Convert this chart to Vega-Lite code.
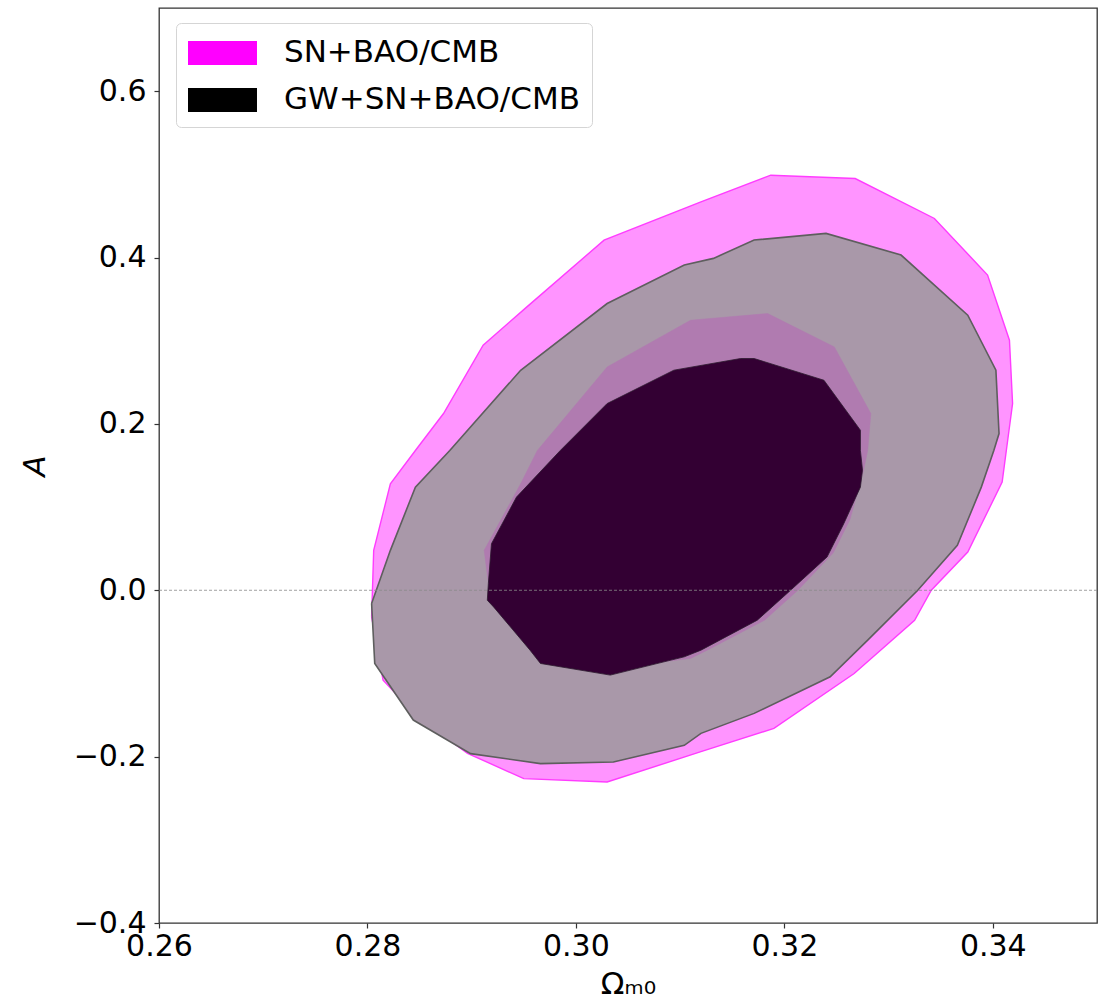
{
  "$schema": "https://vega.github.io/schema/vega-lite/v6.json",
  "width": 938,
  "height": 915,
  "autosize": {"type": "none"},
  "padding": {"left": 159, "top": 8, "right": 6, "bottom": 79},
  "background": "white",
  "config": {
    "view": {"stroke": "#333333", "strokeWidth": 1.3},
    "font": "DejaVu Sans",
    "axis": {
      "grid": false, "domain": false, "tickSize": 5, "tickColor": "#333333", "tickWidth": 1.2,
      "labelFont": "DejaVu Sans", "labelFontSize": 30, "labelColor": "#000000",
      "titleFont": "DejaVu Sans", "titleFontSize": 31, "titleFontWeight": "normal", "titleColor": "#000000"
    }
  },
  "data": {"values": [
    {"c":"sn2","i":1,"x":0.2804,"y":-0.032},
    {"c":"sn2","i":2,"x":0.2806,"y":0.048},
    {"c":"sn2","i":3,"x":0.2822,"y":0.128},
    {"c":"sn2","i":4,"x":0.2846,"y":0.168},
    {"c":"sn2","i":5,"x":0.2873,"y":0.2125},
    {"c":"sn2","i":6,"x":0.2911,"y":0.2946},
    {"c":"sn2","i":7,"x":0.2953,"y":0.3407},
    {"c":"sn2","i":8,"x":0.3027,"y":0.4209},
    {"c":"sn2","i":9,"x":0.312,"y":0.467},
    {"c":"sn2","i":10,"x":0.3187,"y":0.499},
    {"c":"sn2","i":11,"x":0.3268,"y":0.495},
    {"c":"sn2","i":12,"x":0.3344,"y":0.447},
    {"c":"sn2","i":13,"x":0.3395,"y":0.379},
    {"c":"sn2","i":14,"x":0.3416,"y":0.3006},
    {"c":"sn2","i":15,"x":0.3419,"y":0.2245},
    {"c":"sn2","i":16,"x":0.3413,"y":0.168},
    {"c":"sn2","i":17,"x":0.3409,"y":0.13},
    {"c":"sn2","i":18,"x":0.3376,"y":0.046},
    {"c":"sn2","i":19,"x":0.3341,"y":0.0},
    {"c":"sn2","i":20,"x":0.3325,"y":-0.036},
    {"c":"sn2","i":21,"x":0.3267,"y":-0.1},
    {"c":"sn2","i":22,"x":0.319,"y":-0.166},
    {"c":"sn2","i":23,"x":0.312,"y":-0.194},
    {"c":"sn2","i":24,"x":0.303,"y":-0.2305},
    {"c":"sn2","i":25,"x":0.295,"y":-0.2264},
    {"c":"sn2","i":26,"x":0.2896,"y":-0.196},
    {"c":"sn2","i":27,"x":0.2848,"y":-0.152},
    {"c":"sn2","i":28,"x":0.2815,"y":-0.108},
    {"c":"sn2","i":29,"x":0.2804,"y":-0.032},

    {"c":"gw2","i":1,"x":0.2804,"y":-0.016},
    {"c":"gw2","i":2,"x":0.2822,"y":0.048},
    {"c":"gw2","i":3,"x":0.2846,"y":0.124},
    {"c":"gw2","i":4,"x":0.2879,"y":0.168},
    {"c":"gw2","i":5,"x":0.2947,"y":0.2645},
    {"c":"gw2","i":6,"x":0.303,"y":0.3447},
    {"c":"gw2","i":7,"x":0.3104,"y":0.391},
    {"c":"gw2","i":8,"x":0.3132,"y":0.399},
    {"c":"gw2","i":9,"x":0.3171,"y":0.421},
    {"c":"gw2","i":10,"x":0.324,"y":0.429},
    {"c":"gw2","i":11,"x":0.3312,"y":0.403},
    {"c":"gw2","i":12,"x":0.3376,"y":0.3307},
    {"c":"gw2","i":13,"x":0.3403,"y":0.2646},
    {"c":"gw2","i":14,"x":0.3406,"y":0.1884},
    {"c":"gw2","i":15,"x":0.3401,"y":0.168},
    {"c":"gw2","i":16,"x":0.3389,"y":0.124},
    {"c":"gw2","i":17,"x":0.3366,"y":0.054},
    {"c":"gw2","i":18,"x":0.3328,"y":0.0},
    {"c":"gw2","i":19,"x":0.328,"y":-0.06},
    {"c":"gw2","i":20,"x":0.3244,"y":-0.104},
    {"c":"gw2","i":21,"x":0.3171,"y":-0.148},
    {"c":"gw2","i":22,"x":0.312,"y":-0.172},
    {"c":"gw2","i":23,"x":0.3104,"y":-0.1864},
    {"c":"gw2","i":24,"x":0.3036,"y":-0.2064},
    {"c":"gw2","i":25,"x":0.2966,"y":-0.2084},
    {"c":"gw2","i":26,"x":0.2899,"y":-0.1964},
    {"c":"gw2","i":27,"x":0.2844,"y":-0.156},
    {"c":"gw2","i":28,"x":0.2807,"y":-0.088},
    {"c":"gw2","i":29,"x":0.2804,"y":-0.016},

    {"c":"sn1","i":1,"x":0.2916,"y":0.008},
    {"c":"sn1","i":2,"x":0.2912,"y":0.048},
    {"c":"sn1","i":3,"x":0.2947,"y":0.128},
    {"c":"sn1","i":4,"x":0.2963,"y":0.168},
    {"c":"sn1","i":5,"x":0.303,"y":0.2685},
    {"c":"sn1","i":6,"x":0.311,"y":0.3247},
    {"c":"sn1","i":7,"x":0.3184,"y":0.3327},
    {"c":"sn1","i":8,"x":0.3248,"y":0.2926},
    {"c":"sn1","i":9,"x":0.3283,"y":0.2125},
    {"c":"sn1","i":10,"x":0.328,"y":0.168},
    {"c":"sn1","i":11,"x":0.3276,"y":0.144},
    {"c":"sn1","i":12,"x":0.3263,"y":0.085},
    {"c":"sn1","i":13,"x":0.3247,"y":0.045},
    {"c":"sn1","i":14,"x":0.3213,"y":0.0},
    {"c":"sn1","i":15,"x":0.3181,"y":-0.036},
    {"c":"sn1","i":16,"x":0.3126,"y":-0.072},
    {"c":"sn1","i":17,"x":0.311,"y":-0.082},
    {"c":"sn1","i":18,"x":0.303,"y":-0.094},
    {"c":"sn1","i":19,"x":0.2969,"y":-0.078},
    {"c":"sn1","i":20,"x":0.2928,"y":-0.02},
    {"c":"sn1","i":21,"x":0.2919,"y":-0.004},
    {"c":"sn1","i":22,"x":0.2916,"y":0.008},

    {"c":"gw1","i":1,"x":0.2916,"y":0.008},
    {"c":"gw1","i":2,"x":0.2919,"y":0.056},
    {"c":"gw1","i":3,"x":0.2943,"y":0.112},
    {"c":"gw1","i":4,"x":0.2985,"y":0.168},
    {"c":"gw1","i":5,"x":0.303,"y":0.2245},
    {"c":"gw1","i":6,"x":0.3094,"y":0.2646},
    {"c":"gw1","i":7,"x":0.3158,"y":0.2786},
    {"c":"gw1","i":8,"x":0.3171,"y":0.2786},
    {"c":"gw1","i":9,"x":0.3238,"y":0.2525},
    {"c":"gw1","i":10,"x":0.3273,"y":0.1924},
    {"c":"gw1","i":11,"x":0.3273,"y":0.168},
    {"c":"gw1","i":12,"x":0.3275,"y":0.1444},
    {"c":"gw1","i":13,"x":0.3273,"y":0.124},
    {"c":"gw1","i":14,"x":0.3257,"y":0.08},
    {"c":"gw1","i":15,"x":0.3241,"y":0.04},
    {"c":"gw1","i":16,"x":0.3206,"y":0.0},
    {"c":"gw1","i":17,"x":0.3174,"y":-0.036},
    {"c":"gw1","i":18,"x":0.312,"y":-0.072},
    {"c":"gw1","i":19,"x":0.3104,"y":-0.08},
    {"c":"gw1","i":20,"x":0.3033,"y":-0.102},
    {"c":"gw1","i":21,"x":0.2966,"y":-0.088},
    {"c":"gw1","i":22,"x":0.2956,"y":-0.072},
    {"c":"gw1","i":23,"x":0.2921,"y":-0.02},
    {"c":"gw1","i":24,"x":0.2915,"y":-0.012},
    {"c":"gw1","i":25,"x":0.2916,"y":0.008}
  ]},
  "encoding": {
    "x": {"field": "x", "type": "quantitative",
      "scale": {"domain": [0.26, 0.35], "nice": false, "zero": false},
      "axis": {"title": "Ωₘ₀", "values": [0.26, 0.28, 0.30, 0.32, 0.34], "format": ".2f", "labelPadding": 3, "titlePadding": 8, "labelFlush": false, "labelOverlap": false}},
    "y": {"field": "y", "type": "quantitative",
      "scale": {"domain": [-0.4, 0.7], "nice": false, "zero": false},
      "axis": {"title": "A", "titleFontStyle": "italic", "values": [-0.4, -0.2, 0, 0.2, 0.4, 0.6], "format": ".1f", "labelPadding": 8, "titlePadding": 22, "labelFlush": false, "labelOverlap": false}},
    "order": {"field": "i", "type": "quantitative"}
  },
  "layer": [
    {"transform": [{"filter": "datum.c == 'sn2'"}],
     "mark": {"type": "line", "fill": "#ff94ff", "stroke": "#ff3cff", "strokeWidth": 1.4, "clip": true}},
    {"transform": [{"filter": "datum.c == 'gw2'"}],
     "mark": {"type": "line", "fill": "#a998a9", "stroke": "#5e5e5e", "strokeWidth": 1.6, "clip": true}},
    {"transform": [{"filter": "datum.c == 'sn1'"}],
     "mark": {"type": "line", "fill": "#b07bb0", "stroke": "#b07bb0", "strokeWidth": 0.5, "clip": true}},
    {"transform": [{"filter": "datum.c == 'gw1'"}],
     "mark": {"type": "line", "fill": "#330033", "stroke": "#2c1a2e", "strokeWidth": 0.8, "clip": true}},
    {"data": {"values": [{"y0": 0}]},
     "mark": {"type": "rule", "stroke": "#8a8a8a", "strokeWidth": 0.8, "strokeDash": [3, 2]},
     "encoding": {"y": {"field": "y0", "type": "quantitative"}, "x": null, "order": null}},
    {"data": {"values": [{"d": "SN+BAO/CMB"}, {"d": "GW+SN+BAO/CMB"}]},
     "transform": [{"filter": "datum.d == 'none'"}],
     "mark": {"type": "point", "filled": true},
     "encoding": {
       "x": null, "y": null, "order": null,
       "color": {"field": "d", "type": "nominal",
         "scale": {"domain": ["SN+BAO/CMB", "GW+SN+BAO/CMB"], "range": ["#ff00ff", "#000000"]},
         "legend": {"title": null, "orient": "none", "legendX": 17, "legendY": 15,
           "symbolType": "M-1,-0.667H2.833V0.667H-1Z", "symbolSize": 1296, "symbolStrokeWidth": 0,
           "symbolOpacity": 1,
           "labelFont": "DejaVu Sans", "labelFontSize": 31, "labelColor": "#000000", "labelOffset": 60,
           "labelLimit": 600, "rowPadding": 14, "padding": 12,
           "strokeColor": "#d5d5d5", "fillColor": "#ffffff", "cornerRadius": 5}}
     }}
  ]
}
